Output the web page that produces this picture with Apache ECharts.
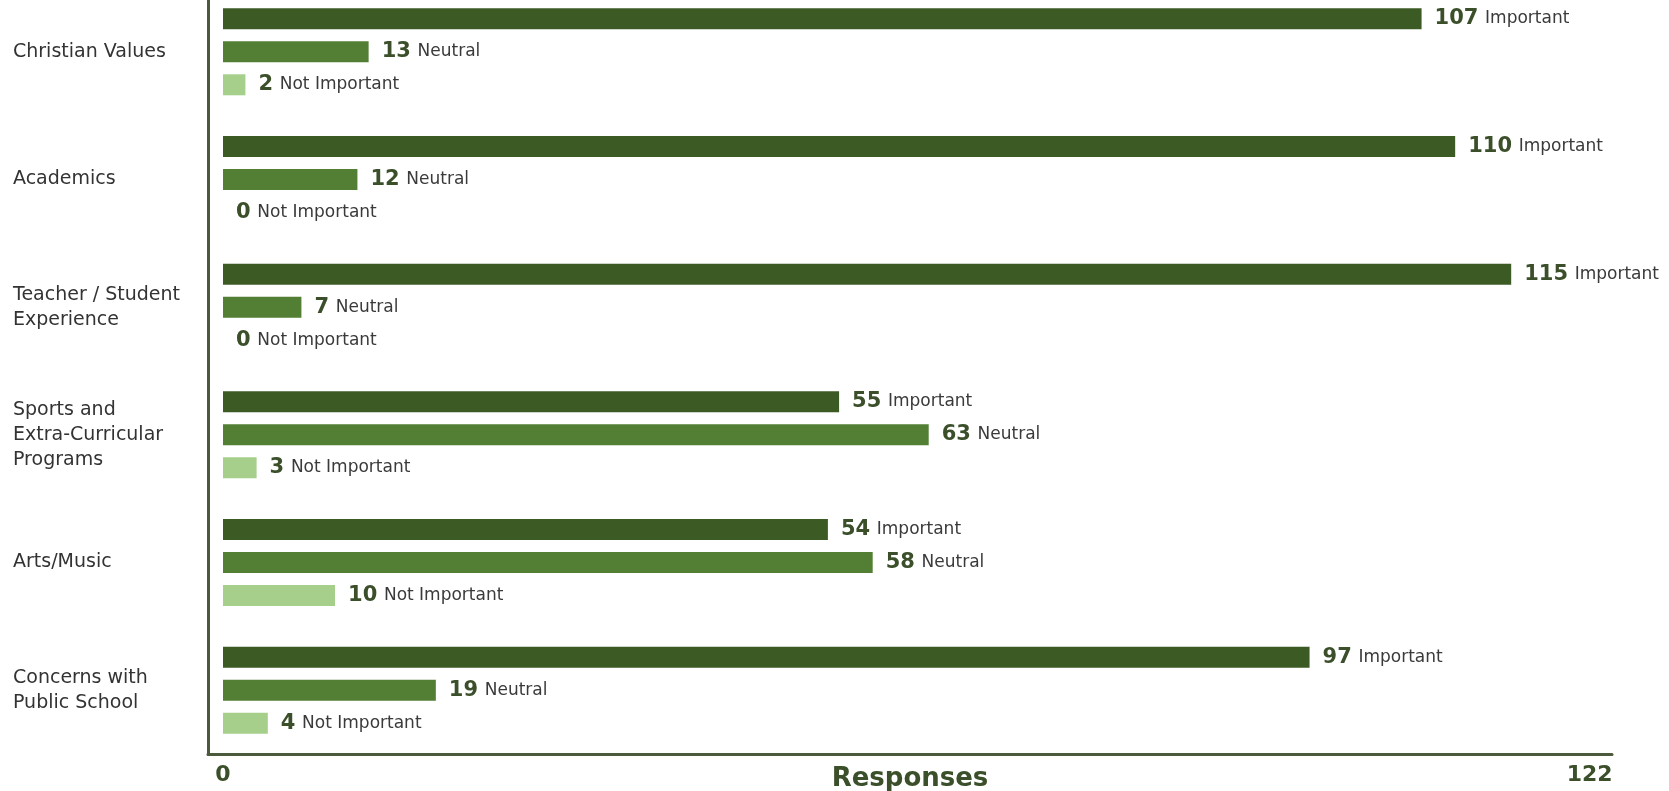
<!DOCTYPE html>
<html><head><meta charset="utf-8">
<script src="https://cdn.jsdelivr.net/npm/echarts@6/dist/echarts.min.js"></script>
<style>html,body{margin:0;padding:0;background:#fff}#c{width:1669px;height:791px}</style>
</head><body><div id="c"></div>
<script>
const categories = ['Christian Values','Academics','Teacher / Student\nExperience','Sports and\nExtra-Curricular\nPrograms','Arts/Music','Concerns with\nPublic School'];
const seriesNames = ['Important','Neutral','Not Important'];
const important = [107,110,115,55,54,97];
const neutral = [13,12,7,63,58,19];
const notImportant = [2,0,0,3,10,4];
const xTicks = [0,122];
const colors = ['#3c5a24','#527f34','#a5cf8b'];
const FONT = '"DejaVu Sans", sans-serif';

function mkSeries(name, data, color){
  return {
    name, type:'bar', data, barWidth:21, barGap:'57%',
    itemStyle:{color},
    label:{show:true, position:'right', distance:13,
      formatter: p => '{v|'+p.value+'}  {t|'+name+'}',
      rich:{v:{fontFamily:FONT, fontWeight:'bold', fontSize:21, color:'#3a4f2a'},
            t:{fontFamily:FONT, fontSize:17, color:'#3a3a3a'}}}
  };
}
const chart = echarts.init(document.getElementById('c'));
chart.setOption({
  animation:false,
  grid:{left:208, right:57, top:-12, bottom:37, containLabel:false, outerBoundsMode:'none'},
  xAxis:{type:'value', min:-1.34, max:124,
    splitLine:{show:false},
    axisLine:{show:true, lineStyle:{color:'#4b5a3c', width:3}},
    axisTick:{show:false},
    axisLabel:{customValues:xTicks, margin:10, fontFamily:FONT, fontWeight:'bold', fontSize:22, color:'#3a4f2a'},
    name:'Responses', nameLocation:'middle', nameGap:12, nameMoveOverlap:false,
    nameTextStyle:{fontFamily:FONT, fontWeight:'bold', fontSize:26, color:'#3a4f2a'}
  },
  yAxis:{type:'category', data:categories, inverse:true,
    axisLine:{show:true, onZero:false, lineStyle:{color:'#4b5a3c', width:3}},
    axisTick:{show:false},
    axisLabel:{align:'left', margin:195, fontFamily:FONT, fontSize:19, color:'#333', lineHeight:25}
  },
  series:[mkSeries(seriesNames[0], important, colors[0]), mkSeries(seriesNames[1], neutral, colors[1]), mkSeries(seriesNames[2], notImportant, colors[2])]
});
</script></body></html>
